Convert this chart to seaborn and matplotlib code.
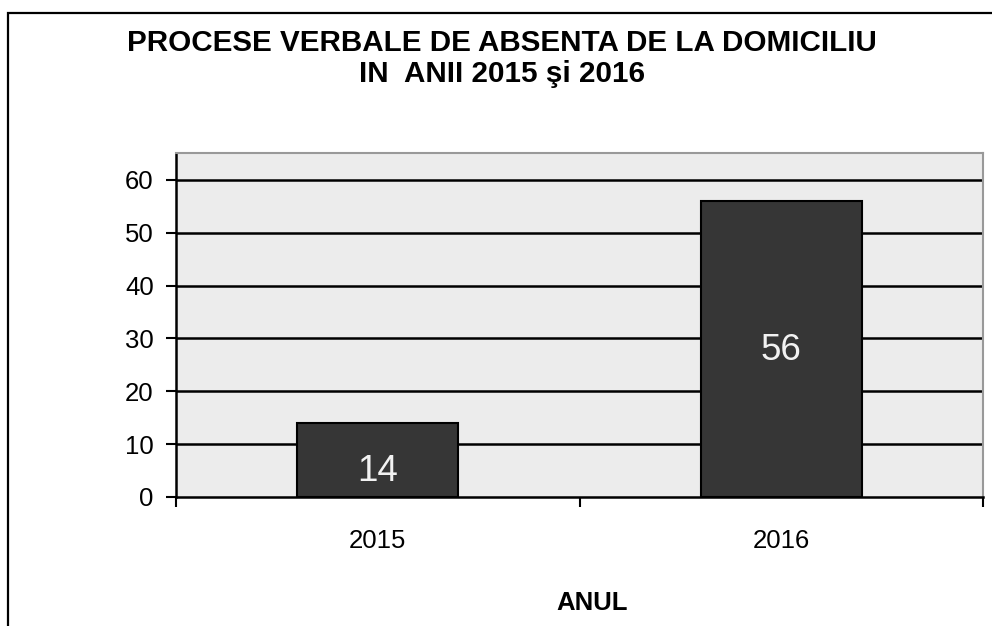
import matplotlib
matplotlib.use("Agg")
import matplotlib.pyplot as plt
import matplotlib.patches as mpatches
import seaborn as sns
import pandas as pd

# Data
years = ["2015", "2016"]
counts = [14, 56]
label_pos = [4.9, 27.8]   # vertical position of the value labels inside the bars
yticks = [0, 10, 20, 30, 40, 50, 60]

sns.set_theme(style="white")
plt.rcParams["font.family"] = ["Liberation Sans", "DejaVu Sans"]
plt.rcParams["text.color"] = "black"
plt.rcParams["xtick.color"] = "black"
plt.rcParams["ytick.color"] = "black"
plt.rcParams["axes.labelcolor"] = "black"

df = pd.DataFrame({"anul": years, "nr": counts})

fig = plt.figure(figsize=(9.92, 6.26), dpi=100)
ax = fig.add_axes([0.1774, 0.2061, 0.991 - 0.1774, 0.7556 - 0.2061])
ax.set_facecolor("#ececec")

sns.barplot(data=df, x="anul", y="nr", ax=ax, color="#363636",
            edgecolor="black", linewidth=1.5, width=0.4, saturation=1)

# horizontal grid lines
for t in yticks[1:]:
    ax.axhline(t, color="black", lw=1.8, zorder=0.5)

ax.set_xlim(-0.5, 1.5)
ax.set_ylim(0, 65.1)
ax.set_yticks(yticks)
ax.tick_params(axis="y", length=7, width=1.5, color="black", pad=9,
               labelsize=18.5, left=True, direction="out", labelcolor="black")
ax.set_xticks([0, 1])
ax.set_xticks([-0.5, 0.5, 1.5], minor=True)
ax.tick_params(axis="x", which="major", length=0, pad=23, labelsize=18.5,
               labelcolor="black")
ax.tick_params(axis="x", which="minor", length=7, width=1.5, color="black",
               bottom=True, direction="out")

for side in ["left", "bottom"]:
    ax.spines[side].set_color("black")
    ax.spines[side].set_linewidth(1.8)
for side in ["top", "right"]:
    ax.spines[side].set_visible(True)
    ax.spines[side].set_color("#999999")
    ax.spines[side].set_linewidth(1.5)

ax.set_ylabel("")
ax.set_xlabel("")

# value labels inside the bars
for i, (v, yp) in enumerate(zip(counts, label_pos)):
    ax.text(i, yp, str(v), ha="center", va="center", color="#f2f2f2", fontsize=26.5)

fig.text(0.506, 0.931, "PROCESE VERBALE DE ABSENTA DE LA DOMICILIU",
         ha="center", va="center", fontsize=21.3, fontweight="bold", color="black")
fig.text(0.506, 0.881, "IN  ANII 2015 şi 2016",
         ha="center", va="center", fontsize=21.3, fontweight="bold", color="black")
fig.text(0.597, 0.0375, "ANUL", ha="center", va="center", fontsize=18.5,
         fontweight="bold", color="black")

# outer chart border (only left and top edges visible)
fig.patches.append(mpatches.Rectangle((0.0085, -0.5), 2, 1.5 - 0.02,
                                      transform=fig.transFigure, fill=False,
                                      lw=1.6, edgecolor="black"))

fig.savefig("out.png", dpi=100)
